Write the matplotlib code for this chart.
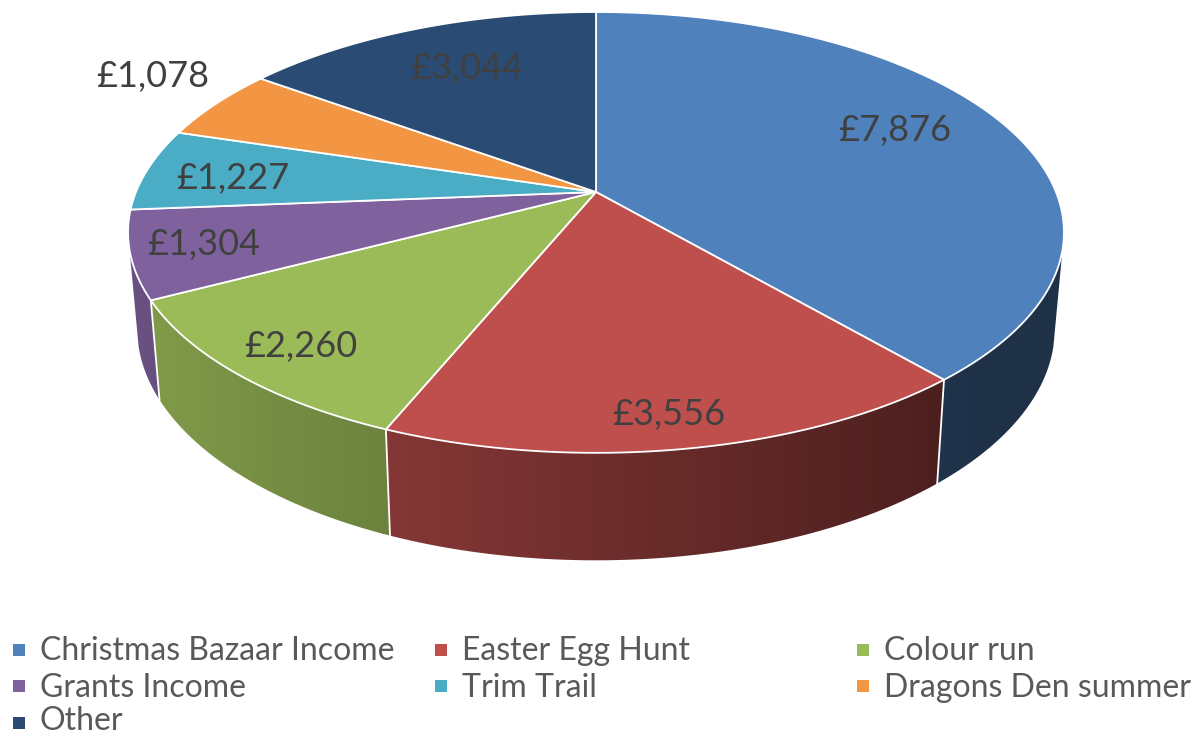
import numpy as np
import matplotlib
matplotlib.use("Agg")
import matplotlib.pyplot as plt
from matplotlib.patches import Polygon
from matplotlib.colors import to_rgb

categories = ["Christmas Bazaar Income", "Easter Egg Hunt", "Colour run", "Grants Income",
              "Trim Trail", "Dragons Den summer", "Other"]
values = [7876, 3556, 2260, 1304, 1227, 1078, 3044]
colors = ["#4F81BD", "#BE4F4D", "#9BBB59", "#7F619D", "#4BACC6", "#F39644", "#2A4B73"]

# centres of the value labels, in pixels
label_x = [895, 669, 301, 204, 233, 153, 467]
label_y = [130, 414, 346, 244, 179, 76, 68]
# legend rows, filled left to right
legend_col_x = [13, 435, 857]
legend_text_y = [651, 688, 721.5]
legend_mark_y = [649.5, 686, 723.3]

plt.rcParams["font.family"] = ["Lato", "DejaVu Sans"]

fig = plt.figure(figsize=(11.95, 7.36), dpi=100)
ax = fig.add_axes([0, 0, 1, 1])

# perspective projection of the disc, angles run clockwise from 12 o'clock
P = 0.1834
def top_rim(t):
    u, v = np.sin(t), np.cos(t)
    w = 1 + P * v
    return 596 + 460 * u / w, 192 - 213 * v / w

def bottom_rim(t):
    u, v = np.sin(t), np.cos(t)
    w = 1 + P * v
    return 596 + 451 * u / w, 286 - 224 * v / w

edges = np.cumsum([0] + values) / sum(values) * 2 * np.pi

# side walls: horizontal gradient clipped to each wall outline
# 105 and 255 deg are about where the rims are tangent to the silhouette
px = np.arange(1195)
shade = np.clip(0.82 - (px - 160) * 0.000538, 0.38, 1)
for i in range(4):
    a, b = max(edges[i], np.radians(105)), min(edges[i + 1], np.radians(255))
    ts = np.linspace(a, b, 200)
    tx, ty = top_rim(ts)
    bx, by = bottom_rim(ts)
    outline = np.c_[np.r_[tx, bx[::-1]], np.r_[ty, by[::-1]]]
    rgb = shade[None, :, None] * np.array(to_rgb(colors[i]))
    im = ax.imshow(rgb, extent=(0, 1195, 736, 0), aspect="auto", zorder=1)
    im.set_clip_path(Polygon(outline, transform=ax.transData))

# white seams between the walls
for e in edges[1:3]:
    x0, y0 = top_rim(e)
    x1, y1 = bottom_rim(e)
    ax.plot([x0, x1], [y0, y1], color="white", lw=1.3, zorder=2)
x0, y0 = top_rim(edges[3])
x1, y1 = bottom_rim(edges[3])
ax.plot([x0, x1], [y0, y1], color="white", lw=1.3, zorder=2)

# top faces
for i, c in enumerate(colors):
    ts = np.linspace(edges[i], edges[i + 1], 200)
    xs, ys = top_rim(ts)
    ax.fill(np.r_[596, xs], np.r_[192, ys], facecolor=c, edgecolor="white", lw=1.3, zorder=3,
            joinstyle="round")

for x, y, v in zip(label_x, label_y, values):
    ax.text(x, y, f"£{v:,}", ha="center", va="center", fontsize=26, color="#404040", zorder=4)

# legend
for i, (name, c) in enumerate(zip(categories, colors)):
    lx = legend_col_x[i % 3]
    ax.scatter([lx + 6.5], [legend_mark_y[i // 3]], marker="s", s=87, color=c, linewidths=0, zorder=4)
    ax.text(lx + 27, legend_text_y[i // 3], name, ha="left", va="center", fontsize=23, color="#595959", zorder=4)

ax.set_xlim(0, 1195)
ax.set_ylim(736, 0)
ax.axis("off")

fig.savefig("out.png", dpi=100)
